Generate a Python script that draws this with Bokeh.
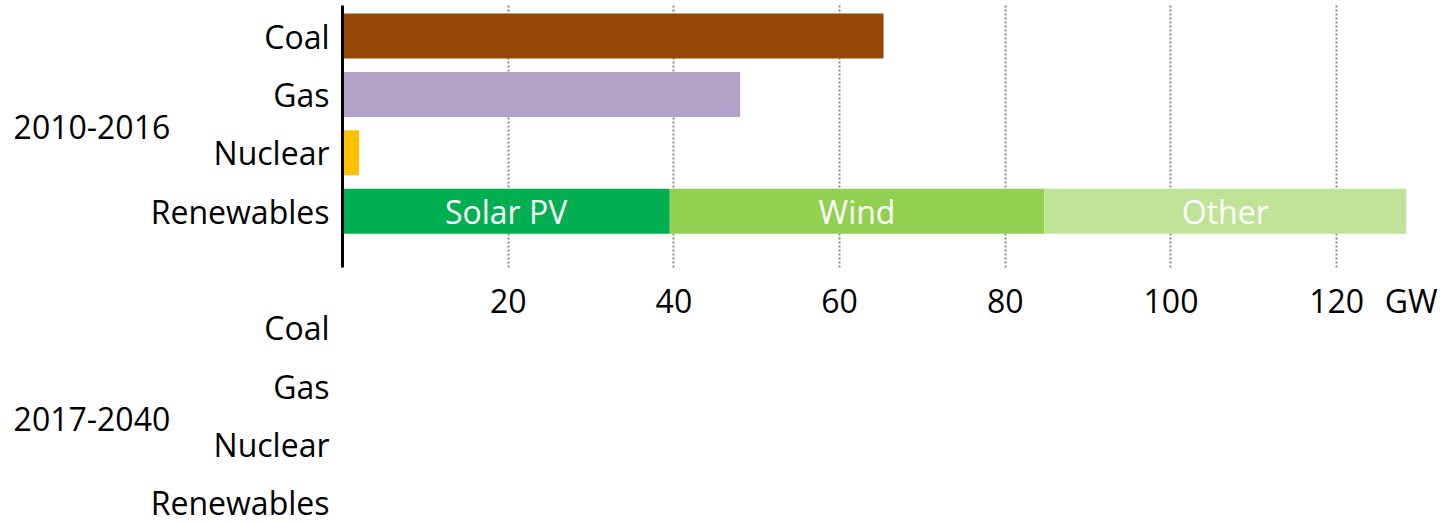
from bokeh.plotting import figure
from bokeh.models import Range1d, FixedTicker, LinearAxis
from bokeh.core.properties import value
from bokeh.embed import file_html
from bokeh.resources import INLINE

# ---- data ----
categories = ["Coal", "Gas", "Nuclear", "Renewables"]
periods = ["2010-2016", "2017-2040"]
single_values = [65.3, 48.0, 2.0]          # Coal, Gas, Nuclear (2010-2016), GW
single_colors = ["#974706", "#B2A2C7", "#FFC000"]
renew_parts = ["Solar PV", "Wind", "Other"]
renew_values = [39.5, 45.2, 43.7]         # stacked Renewables (2010-2016), GW
renew_colors = ["#00B050", "#92D050", "#BFE397"]
x_ticks = [20, 40, 60, 80, 100, 120]
unit = "GW"

FONT = "Open Sans"
FS = "32px"
W, H = 1441, 523
X_RANGE = (-41.28, 132.65)   # value 0 sits at the axis line
Y_RANGE = (8.348, -0.608)    # category slots, top to bottom
PANEL_BOUNDS = (-0.522, 3.964)
UNIT_TICK = 129              # where the unit label is written on the x axis
GROUP_X = -39.7              # left edge of the period labels
BAR_H = 0.77

n = len(categories)
top_pos = list(range(n))                 # 2010-2016 rows
bot_pos = [n + 1 + i for i in range(n)]  # 2017-2040 rows

p = figure(width=W, height=H,
           x_range=Range1d(*X_RANGE), y_range=Range1d(*Y_RANGE),
           output_backend="svg", toolbar_location=None,
           min_border_left=0, min_border_right=0,
           min_border_top=0, min_border_bottom=0)
p.outline_line_color = None
p.background_fill_color = "white"
p.border_fill_color = "white"
p.ygrid.visible = False


def style_cat_axis(ax, positions):
    ax.fixed_location = 0
    ax.ticker = FixedTicker(ticks=positions)
    ax.major_label_overrides = {pos: c for pos, c in zip(positions, categories)}
    ax.major_tick_line_color = None
    ax.minor_tick_line_color = None
    ax.major_label_text_font = FONT
    ax.major_label_text_font_size = FS
    ax.major_label_text_color = "black"
    ax.major_label_standoff = 7


# category axes
ya = p.yaxis[0]
style_cat_axis(ya, top_pos)
ya.bounds = PANEL_BOUNDS
ya.axis_line_color = "black"
ya.axis_line_width = 3

yb = LinearAxis()
style_cat_axis(yb, bot_pos)
yb.axis_line_color = None
p.add_layout(yb, "left")

# bars
p.hbar(y=top_pos[:len(single_values)], left=0, right=single_values,
       height=BAR_H, fill_color=single_colors, line_color=None)

lefts, rights = [], []
acc = 0.0
for v in renew_values:
    lefts.append(acc)
    acc += v
    rights.append(acc)
ren_y = top_pos[categories.index("Renewables")]
p.hbar(y=[ren_y] * len(renew_values), left=lefts, right=rights,
       height=BAR_H, fill_color=renew_colors, line_color=None)
p.text(x=[(a + b) / 2 for a, b in zip(lefts, rights)], y=[ren_y] * len(renew_parts),
       text=renew_parts, text_color="white", text_font=value(FONT),
       text_font_size=FS, text_align="center", text_baseline="middle")

# vertical dotted grid, only over the 2010-2016 panel
g = p.xgrid[0]
g.ticker = FixedTicker(ticks=x_ticks)
g.grid_line_color = "#8a8a8a"
g.grid_line_width = 2
g.grid_line_dash = "2 2"
if hasattr(g, "cross_bounds"):
    g.cross_bounds = PANEL_BOUNDS
else:
    g.visible = False
    p.segment(x0=x_ticks, x1=x_ticks, y0=PANEL_BOUNDS[0], y1=PANEL_BOUNDS[1],
              line_color="#8a8a8a", line_width=2, line_dash="2 2", level="underlay")

# value axis under the 2010-2016 panel
xa = p.xaxis[0]
xa.fixed_location = PANEL_BOUNDS[1]
xa.ticker = FixedTicker(ticks=x_ticks + [UNIT_TICK])
xa.major_label_overrides = {UNIT_TICK: unit}
xa.axis_line_color = None
xa.major_tick_line_color = None
xa.minor_tick_line_color = None
xa.major_label_text_font = FONT
xa.major_label_text_font_size = FS
xa.major_label_text_color = "black"
xa.major_label_standoff = 6

# period labels
p.text(x=[GROUP_X, GROUP_X],
       y=[top_pos[0] + (n - 1) / 2, bot_pos[0] + (n - 1) / 2],
       text=periods, text_color="black", text_font=value(FONT), text_font_size=FS,
       text_align="left", text_baseline="middle", y_offset=3)

open("out.html", "w").write(file_html(p, INLINE))
